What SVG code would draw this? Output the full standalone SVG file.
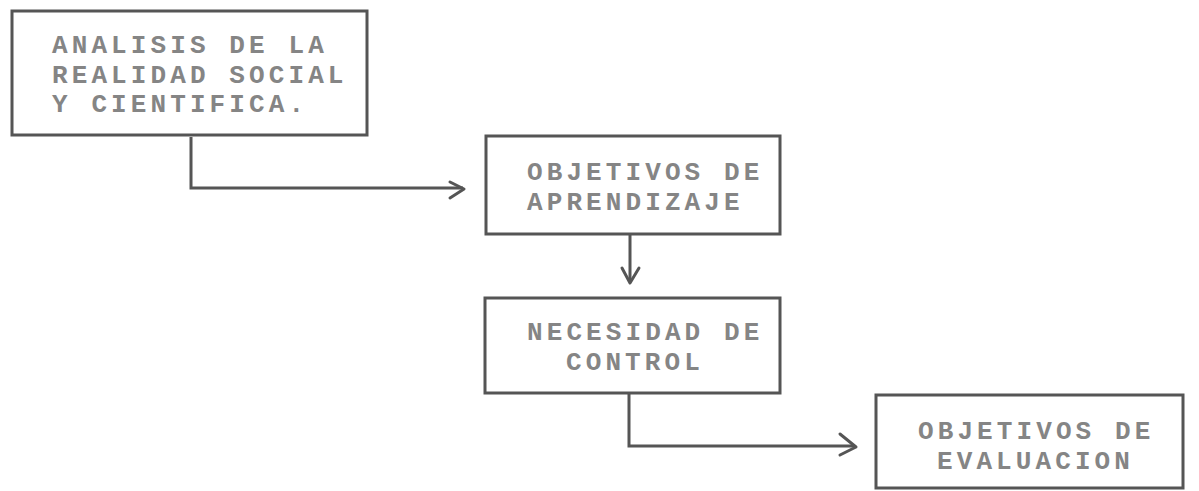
<svg xmlns="http://www.w3.org/2000/svg" width="1199" height="491" viewBox="0 0 1199 491">
<style>
.box{fill:none;stroke:#555;stroke-width:3}
.t{font-family:"Liberation Mono","DejaVu Sans Mono",monospace;font-size:26px;font-weight:bold;fill:#858585;letter-spacing:4.1px}
.c{fill:none;stroke:#555;stroke-width:3;stroke-linejoin:miter}
.ah{fill:none;stroke:#555;stroke-width:3;stroke-linecap:round;stroke-linejoin:round}
</style>
<rect width="1199" height="491" fill="#ffffff"/>
<g id="connectors">
<path class="c" d="M191,137 V188 H463"/>
<path class="ah" d="M450,182 L464,189 L450,198"/>
<path class="c" d="M630,234 V282"/>
<path class="ah" d="M622,268 L630,283 L639,268"/>
<path class="c" d="M629,393 V446 H855"/>
<path class="ah" d="M840,434 L856,447 L840,455"/>
</g>
<g id="node1">
<rect class="box" x="12" y="11" width="355" height="124"/>
<text class="t" x="52" y="53">ANALISIS DE LA</text>
<text class="t" x="52" y="82.5">REALIDAD SOCIAL</text>
<text class="t" x="52" y="112">Y CIENTIFICA.</text>
</g>
<g id="node2">
<rect class="box" x="486" y="136" width="294" height="98"/>
<text class="t" x="527" y="180">OBJETIVOS DE</text>
<text class="t" x="527" y="210">APRENDIZAJE</text>
</g>
<g id="node3">
<rect class="box" x="485" y="298" width="295" height="95"/>
<text class="t" x="527" y="340">NECESIDAD DE</text>
<text class="t" x="566" y="370">CONTROL</text>
</g>
<g id="node4">
<rect class="box" x="876" y="395" width="307" height="93"/>
<text class="t" x="918" y="439">OBJETIVOS DE</text>
<text class="t" x="937" y="469">EVALUACION</text>
</g>
</svg>
